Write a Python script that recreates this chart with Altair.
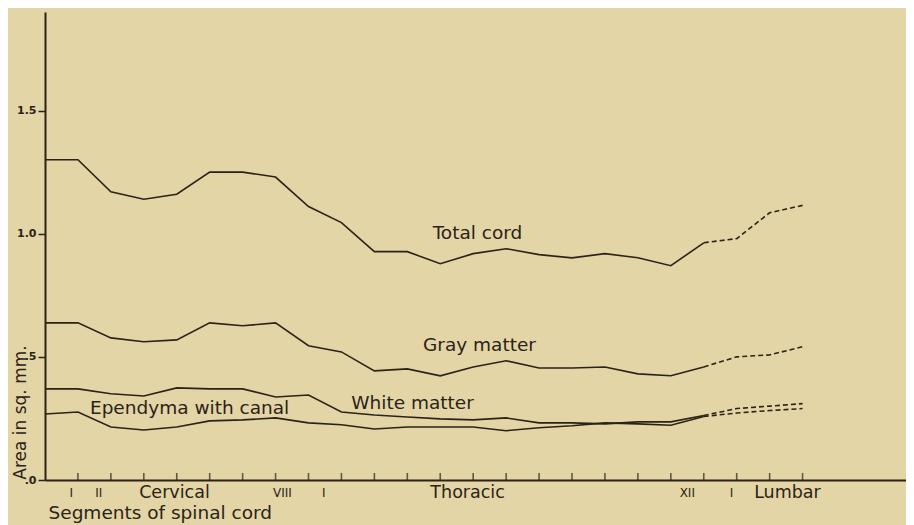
import altair as alt
import pandas as pd

# ---- data ----
segments = list(range(24))
total_cord = [1.30, 1.30, 1.17, 1.14, 1.16, 1.25, 1.25, 1.23, 1.11, 1.045, 0.927, 0.927,
              0.878, 0.919, 0.939, 0.915, 0.902, 0.919, 0.902, 0.870, 0.963, 0.98, 1.085, 1.115]
gray_matter = [0.638, 0.638, 0.577, 0.561, 0.569, 0.638, 0.626, 0.638, 0.545, 0.52, 0.443, 0.451,
               0.423, 0.459, 0.484, 0.455, 0.455, 0.459, 0.431, 0.423, 0.459, 0.50, 0.508, 0.541]
white_matter = [0.37, 0.37, 0.35, 0.341, 0.374, 0.37, 0.37, 0.337, 0.345, 0.276, 0.264, 0.256,
                0.248, 0.244, 0.252, 0.232, 0.232, 0.228, 0.236, 0.236, 0.262, 0.29, 0.30, 0.31]
ependyma = [0.268, 0.276, 0.215, 0.203, 0.215, 0.24, 0.244, 0.252, 0.232, 0.224, 0.207, 0.215,
            0.215, 0.215, 0.20, 0.212, 0.22, 0.232, 0.228, 0.222, 0.258, 0.272, 0.282, 0.29]
solid_until = 20  # last measured segment; beyond it the curves are dashed

series_names = ["Total cord", "Gray matter", "White matter", "Ependyma with canal"]
series_values = [total_cord, gray_matter, white_matter, ependyma]

label_text = ["Total cord", "Gray matter", "White matter", "Ependyma with canal"]
label_seg = [13.13, 13.19, 11.16, 4.39]
label_val = [1.004, 0.549, 0.313, 0.293]

tick_segments = list(range(1, 24))
roman_text = ["I", "II", "VIII", "I", "XII", "I"]
roman_seg = [0.80, 1.63, 7.21, 8.46, 19.5, 20.84]
region_text = ["Cervical", "Thoracic", "Lumbar"]
region_seg = [3.93, 12.83, 22.54]

y_tick_values = [0, 0.5, 1.0, 1.5]

# ---- tables ----
solid_rows, dashed_rows = [], []
for name, vals in zip(series_names, series_values):
    for s, v in zip(segments, vals):
        if s <= solid_until:
            solid_rows.append({"series": name, "seg": s, "val": v})
        if s >= solid_until:
            dashed_rows.append({"series": name, "seg": s, "val": v})
solid_df = pd.DataFrame(solid_rows)
dashed_df = pd.DataFrame(dashed_rows)
labels_df = pd.DataFrame({"text": label_text, "seg": label_seg, "val": label_val})
ticks_df = pd.DataFrame({"seg": tick_segments, "val": [0] * len(tick_segments)})
roman_df = pd.DataFrame({"text": roman_text, "seg": roman_seg, "val": [0] * len(roman_text)})
region_df = pd.DataFrame({"text": region_text, "seg": region_seg, "val": [0] * len(region_text)})

INK = "#2b2318"
BG = "#e3d5a6"
FONT = "DejaVu Sans"

xscale = alt.Scale(domain=[0, 26.14], nice=False, zero=False)
yscale = alt.Scale(domain=[0, 1.9], nice=False, zero=False)

x_axis = alt.Axis(ticks=False, labels=False, grid=False, domainColor=INK, domainWidth=1.8,
                  title="Segments of spinal cord", titleAnchor="start", titleAlign="left",
                  titleX=3, titleY=38, titleBaseline="alphabetic", titleFont=FONT,
                  titleFontSize=18.5, titleFontWeight="normal", titleColor=INK)
y_axis = alt.Axis(values=y_tick_values, grid=False, tickSize=7, tickColor=INK, tickWidth=1.5,
                  domainColor=INK, domainWidth=2,
                  labelExpr="datum.value == 0 ? '.0' : datum.value == 0.5 ? '.5' : format(datum.value, '.1f')",
                  labelFont=FONT, labelFontSize=11, labelFontWeight="bold", labelColor=INK,
                  labelPadding=2,
                  title="Area in sq. mm.", titleAngle=270, titleX=-20, titleY=400,
                  titleAlign="center", titleBaseline="alphabetic", titleFont=FONT,
                  titleFontSize=17, titleFontWeight="normal", titleColor=INK)

base_x = alt.X("seg:Q", scale=xscale, axis=x_axis)
base_y = alt.Y("val:Q", scale=yscale, axis=y_axis)

solid = alt.Chart(solid_df).mark_line(color=INK, strokeWidth=1.6).encode(
    x=base_x, y=base_y, detail="series:N")
dashed = alt.Chart(dashed_df).mark_line(color=INK, strokeWidth=1.6, strokeDash=[5, 3]).encode(
    x=alt.X("seg:Q", scale=xscale), y=alt.Y("val:Q", scale=yscale), detail="series:N")
ticks = alt.Chart(ticks_df).mark_tick(orient="vertical", size=7, thickness=1.6, color=INK,
                                      yOffset=-3.5).encode(
    x=alt.X("seg:Q", scale=xscale), y=alt.Y("val:Q", scale=yscale))
roman = alt.Chart(roman_df).mark_text(font=FONT, fontSize=12, color=INK, dy=17,
                                      baseline="alphabetic", align="center").encode(
    x=alt.X("seg:Q", scale=xscale), y=alt.Y("val:Q", scale=yscale), text="text:N")
region = alt.Chart(region_df).mark_text(font=FONT, fontSize=17.5, color=INK, dy=18,
                                        baseline="alphabetic", align="center").encode(
    x=alt.X("seg:Q", scale=xscale), y=alt.Y("val:Q", scale=yscale), text="text:N")
series_labels = alt.Chart(labels_df).mark_text(font=FONT, fontSize=18.5, color=INK,
                                               baseline="middle", align="center").encode(
    x=alt.X("seg:Q", scale=xscale), y=alt.Y("val:Q", scale=yscale), text="text:N")

chart = alt.layer(solid, dashed, ticks, roman, region, series_labels).properties(
    width=861, height=468,
    autosize=alt.AutoSizeParams(type="none"),
    padding={"left": 37, "top": 4, "right": 0, "bottom": 45},
    background=BG,
).configure_view(stroke=None)

chart.save("out.html", embed_options={"renderer": "svg", "actions": False})
